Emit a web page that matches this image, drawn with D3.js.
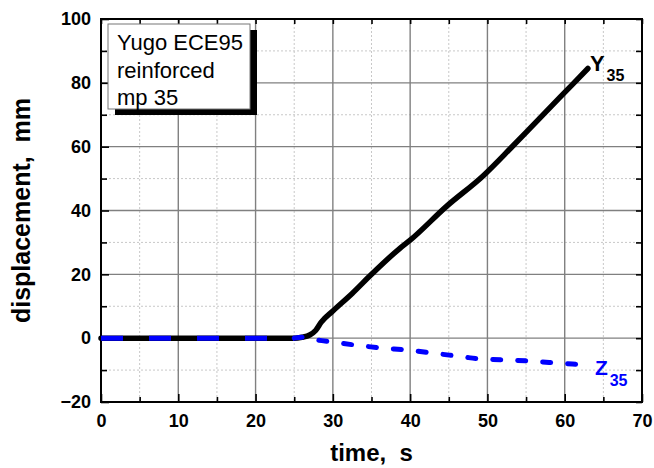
<!DOCTYPE html>
<html>
<head>
<meta charset="utf-8">
<script src="https://cdn.jsdelivr.net/npm/d3@7"></script>
<style>
  body { margin: 0; background: #fff; }
  svg { display: block; font-family: "Liberation Sans", Arial, sans-serif; }
  .tick text { font-size: 18px; font-weight: bold; fill: #000; }
  .domain { display: none; }
</style>
</head>
<body>
<div id="chart"></div>
<script>
// Y35 displacement (black solid)
var yTime = [0, 25, 26, 27, 27.8, 28.5, 30, 32.5, 35, 38.6, 40, 44.7, 49.5, 53, 56, 59.4, 63]
var yDisp = [0, 0, 0.3, 1, 2.5, 5, 8.5, 14, 20, 28, 30.7, 41.3, 51, 59.5, 67, 75.5, 84.5]

// Z35 displacement (blue dashed)
var zTime = [0, 25, 26, 27, 28, 30, 33, 36, 40, 44, 47, 48.5, 50, 55, 58, 61, 63]
var zDisp = [0, 0, 0.3, -0.3, -0.6, -1.2, -2.2, -3, -3.8, -5, -5.9, -6.4, -6.6, -7.1, -7.6, -8.1, -8.5]

var xTicks = [0, 10, 20, 30, 40, 50, 60, 70]
var xMinor = [5, 15, 25, 35, 45, 55, 65]
var yTicks = [-20, 0, 20, 40, 60, 80, 100]
var yMinor = [-10, 10, 30, 50, 70, 90]

var legendLines = ['Yugo ECE95', 'reinforced', 'mp 35']

var W = 654, H = 468
var m = {left: 101, top: 19, right: 12, bottom: 66}
var w = W - m.left - m.right, h = H - m.top - m.bottom

var svg = d3.select('#chart').append('svg').attr('width', W).attr('height', H)
var g = svg.append('g').attr('transform', 'translate(' + m.left + ',' + m.top + ')')

var x = d3.scaleLinear().domain([0, 70]).range([0, w])
var y = d3.scaleLinear().domain([-20, 100]).range([h, 0])

// grid
g.append('g').selectAll('line').data(xMinor).join('line')
  .attr('x1', x).attr('x2', x).attr('y1', 0).attr('y2', h)
  .attr('stroke', '#c8c8c8').attr('stroke-dasharray', '2,2')
g.append('g').selectAll('line').data(yMinor).join('line')
  .attr('y1', y).attr('y2', y).attr('x1', 0).attr('x2', w)
  .attr('stroke', '#c8c8c8').attr('stroke-dasharray', '2,2')
g.append('g').selectAll('line').data(xTicks.slice(1, -1)).join('line')
  .attr('x1', x).attr('x2', x).attr('y1', 0).attr('y2', h)
  .attr('stroke', '#808080').attr('stroke-width', 1.4)
g.append('g').selectAll('line').data(yTicks.slice(1, -1)).join('line')
  .attr('y1', y).attr('y2', y).attr('x1', 0).attr('x2', w)
  .attr('stroke', '#808080').attr('stroke-width', 1.4)

// axes, ticks inward
function tickStyle(sel) {
  sel.selectAll('.tick line').attr('stroke', '#000').attr('stroke-width', 1.6)
}
g.append('g').attr('transform', 'translate(0,' + h + ')')
  .call(d3.axisBottom(x).tickValues(xTicks).tickSize(-8).tickPadding(12).tickFormat(d3.format('d')))
  .call(tickStyle)
g.append('g').attr('transform', 'translate(0,' + h + ')')
  .call(d3.axisBottom(x).tickValues(xMinor).tickSize(-5).tickFormat(''))
  .call(tickStyle)
g.append('g')
  .call(d3.axisLeft(y).tickValues(yTicks).tickSize(-8).tickPadding(10).tickFormat(d3.format('d')))
  .call(tickStyle)
g.append('g')
  .call(d3.axisLeft(y).tickValues(yMinor).tickSize(-6).tickFormat(''))
  .call(tickStyle)
g.append('g')
  .call(d3.axisTop(x).tickValues(xTicks.concat(xMinor)).tickSize(-5).tickFormat(''))
  .call(tickStyle)
g.append('g').attr('transform', 'translate(' + w + ',0)')
  .call(d3.axisRight(y).tickValues(yTicks.concat(yMinor)).tickSize(-6).tickFormat(''))
  .call(tickStyle)

g.append('rect').attr('width', w).attr('height', h)
  .attr('fill', 'none').attr('stroke', '#000').attr('stroke-width', 2)

// series
var yData = yTime.map(function(t, i){ return [t, yDisp[i]] })
var zData = zTime.map(function(t, i){ return [t, zDisp[i]] })
var line = d3.line().curve(d3.curveMonotoneX)
  .x(function(d){ return x(d[0]) }).y(function(d){ return y(d[1]) })

g.append('path').attr('d', line(yData))
  .attr('fill', 'none').attr('stroke', '#000').attr('stroke-width', 5.5)
  .attr('stroke-linejoin', 'round').attr('stroke-linecap', 'round')

g.append('path').attr('d', line(zData.filter(function(d){ return d[0] <= 25 })))
  .attr('fill', 'none').attr('stroke', '#0000ff').attr('stroke-width', 5)
  .attr('stroke-dasharray', '22,26')
g.append('path').attr('d', line(zData.filter(function(d){ return d[0] >= 25 })))
  .attr('fill', 'none').attr('stroke', '#0000ff').attr('stroke-width', 5)
  .attr('stroke-linecap', 'round').attr('stroke-dasharray', '8,17')

// end labels
var yEnd = yData[yData.length - 1], zEnd = zData[zData.length - 1]
var yl = g.append('text').attr('x', x(yEnd[0]) + 2).attr('y', y(yEnd[1]) + 3)
  .attr('font-weight', 'bold').attr('font-size', 22).attr('fill', '#000')
yl.append('tspan').text('Y')
yl.append('tspan').attr('dy', 10).attr('dx', 2).attr('font-size', 16).text('35')

var zl = g.append('text').attr('x', x(zEnd[0]) + 7).attr('y', y(zEnd[1]) + 10)
  .attr('font-weight', 'bold').attr('font-size', 21).attr('fill', '#0000ff')
zl.append('tspan').text('Z')
zl.append('tspan').attr('dy', 11).attr('dx', 2).attr('font-size', 16).text('35')

// legend box with shadow
var lg = svg.append('g').attr('transform', 'translate(108,24)')
lg.append('rect').attr('x', 7).attr('y', 6).attr('width', 142).attr('height', 85).attr('fill', '#000')
lg.append('rect').attr('width', 142).attr('height', 85)
  .attr('fill', '#fff').attr('stroke', '#777').attr('stroke-width', 1)
lg.selectAll('text').data(legendLines).join('text')
  .attr('x', 9).attr('y', function(d, i){ return 26 + i * 27.5 })
  .attr('font-size', 22).attr('fill', '#000').text(function(d){ return d })

// axis titles
svg.append('text').attr('transform', 'translate(30,' + (m.top + h / 2) + ') rotate(-90)')
  .attr('text-anchor', 'middle').attr('font-size', 25).attr('font-weight', 'bold')
  .style('white-space', 'pre').text('displacement,  mm')
svg.append('text').attr('x', m.left + w / 2).attr('y', 461)
  .attr('text-anchor', 'middle').attr('font-size', 24).attr('font-weight', 'bold')
  .style('white-space', 'pre').text('time,  s')
</script>
</body>
</html>
